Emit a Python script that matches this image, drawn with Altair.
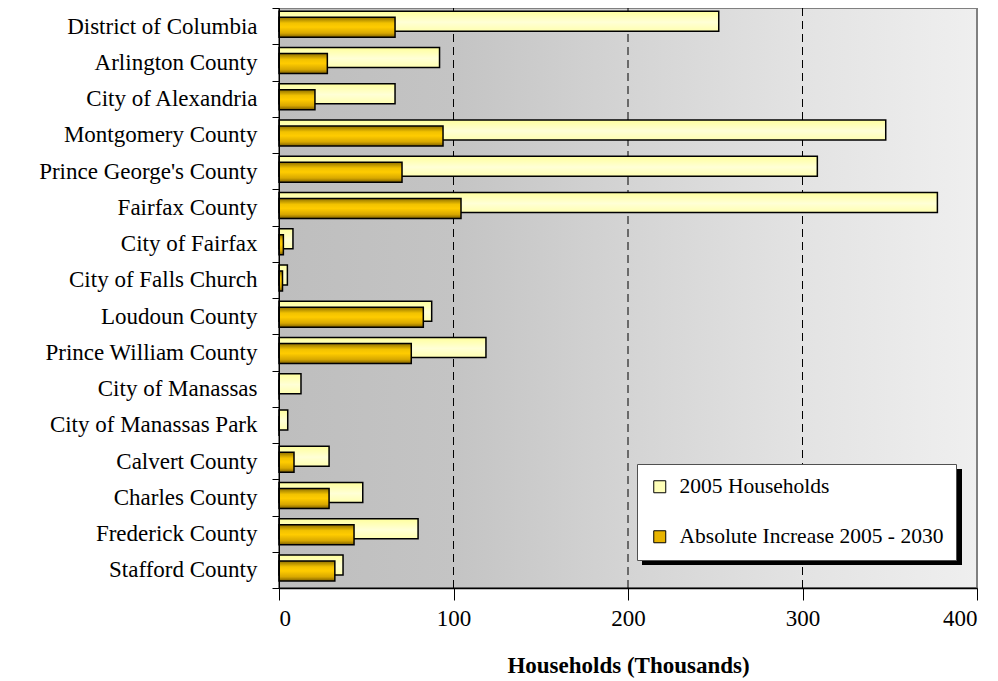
import altair as alt
import pandas as pd

categories = [
    "District of Columbia", "Arlington County", "City of Alexandria",
    "Montgomery County", "Prince George's County", "Fairfax County",
    "City of Fairfax", "City of Falls Church", "Loudoun County",
    "Prince William County", "City of Manassas", "City of Manassas Park",
    "Calvert County", "Charles County", "Frederick County", "Stafford County",
]
households_2005 = [252, 92, 66.5, 347.7, 308.5, 377.3, 8, 4.8, 87.5, 118.6,
                   12.6, 5, 28.7, 48, 79.7, 36.7]
increase_2005_2030 = [66.5, 27.7, 20.6, 94, 70.5, 104.3, 2.5, 2, 82.7, 75.8,
                      0, 0, 8.6, 28.7, 43, 32]
series_names = ["2005 Households", "Absolute Increase 2005 - 2030"]
x_ticks = [0, 100, 200, 300, 400]
grid_values = [100, 200, 300]

FONT = "Liberation Serif"

df_light = pd.DataFrame({"cat": categories, "v": households_2005, "series": series_names[0]})
df_dark = pd.DataFrame({"cat": categories, "v": increase_2005_2030, "series": series_names[1]})
df_all = pd.concat([df_light, df_dark])

xscale = alt.Scale(domain=[0, 400], nice=False, zero=True)
yscale = alt.Scale(paddingInner=0, paddingOuter=0)

x_enc = alt.X(
    "v:Q", scale=xscale,
    axis=alt.Axis(values=x_ticks, title="Households (Thousands)", grid=False,
                  labelFont=FONT, labelFontSize=23, labelColor="black",
                  titleFont=FONT, titleFontSize=23, titleFontWeight="bold",
                  titleColor="black", titlePadding=24,
                  tickSize=12, tickColor="black", domainColor="black",
                  domainWidth=1.5, labelPadding=7, zindex=1),
)
y_enc = alt.Y(
    "cat:N", sort=categories, scale=yscale,
    axis=alt.Axis(title=None, labelFont=FONT, labelFontSize=23, labelColor="black",
                  labelLimit=400,
                  tickBand="extent", tickSize=7, tickColor="black",
                  domainColor="black", labelPadding=15, zindex=1),
)

bg_grad = alt.Gradient(
    gradient="linear", x1=0, x2=1, y1=0, y2=0,
    stops=[alt.GradientStop(color="#bebebe", offset=0),
           alt.GradientStop(color="#c4c4c4", offset=0.25),
           alt.GradientStop(color="#d4d4d4", offset=0.5),
           alt.GradientStop(color="#e3e3e3", offset=0.75),
           alt.GradientStop(color="#efefef", offset=1)],
)
light_grad = alt.Gradient(
    gradient="linear", x1=0, x2=0, y1=0, y2=1,
    stops=[alt.GradientStop(color="#ffff9c", offset=0),
           alt.GradientStop(color="#ffffd6", offset=0.55),
           alt.GradientStop(color="#ffffb0", offset=1)],
)
dark_grad = alt.Gradient(
    gradient="linear", x1=0, x2=0, y1=0, y2=1,
    stops=[alt.GradientStop(color="#8c6e00", offset=0),
           alt.GradientStop(color="#f2c200", offset=0.3),
           alt.GradientStop(color="#ffcc00", offset=0.5),
           alt.GradientStop(color="#d8a800", offset=0.8),
           alt.GradientStop(color="#806200", offset=1)],
)

bg = alt.Chart(pd.DataFrame({"a": [0], "b": [400]})).mark_rect(
    color=bg_grad, stroke="#808080", strokeWidth=2
).encode(x=alt.X("a:Q", scale=xscale), x2="b:Q")

grid = alt.Chart(pd.DataFrame({"v": grid_values})).mark_rule(
    color="black", strokeDash=[8, 5], strokeWidth=1
).encode(x=alt.X("v:Q", scale=xscale))

light = alt.Chart(df_light).mark_bar(
    color=light_grad, stroke="black", strokeWidth=1.5, height=20, yOffset=-5
).encode(x=x_enc, y=y_enc)

dark = alt.Chart(df_dark).mark_bar(
    color=dark_grad, stroke="black", strokeWidth=1.5, height=20, yOffset=1
).encode(x=x_enc, y=y_enc)

shadow = alt.Chart(pd.DataFrame({"a": [0]})).mark_rect(color="black").encode(
    x=alt.value(363), x2=alt.value(683), y=alt.value(461), y2=alt.value(557)
)

legend_layer = alt.Chart(df_all).mark_square(opacity=0, size=1).encode(
    x=x_enc, y=y_enc,
    color=alt.Color(
        "series:N",
        scale=alt.Scale(domain=series_names, range=["#ffffb8", "#e8b400"]),
        legend=alt.Legend(
            title=None, orient="none", legendX=358, legendY=456,
            fillColor="white", strokeColor="#505050",
            padding=12, rowPadding=27, symbolType="square", symbolSize=144,
            symbolStrokeColor="black", symbolStrokeWidth=1, symbolOpacity=1,
            labelFont=FONT, labelFontSize=21.5, labelColor="black", labelOffset=9,
            labelLimit=400,
        ),
    ),
)

chart = alt.layer(bg, grid, light, dark, shadow, legend_layer).properties(
    width=698, height=580,
    autosize=alt.AutoSizeParams(type="none"),
    padding={"left": 271, "top": 0, "right": 13, "bottom": 92},
).configure_view(stroke=None).configure(background="white")

chart.save("out.html", embed_options={"renderer": "svg", "actions": False})
